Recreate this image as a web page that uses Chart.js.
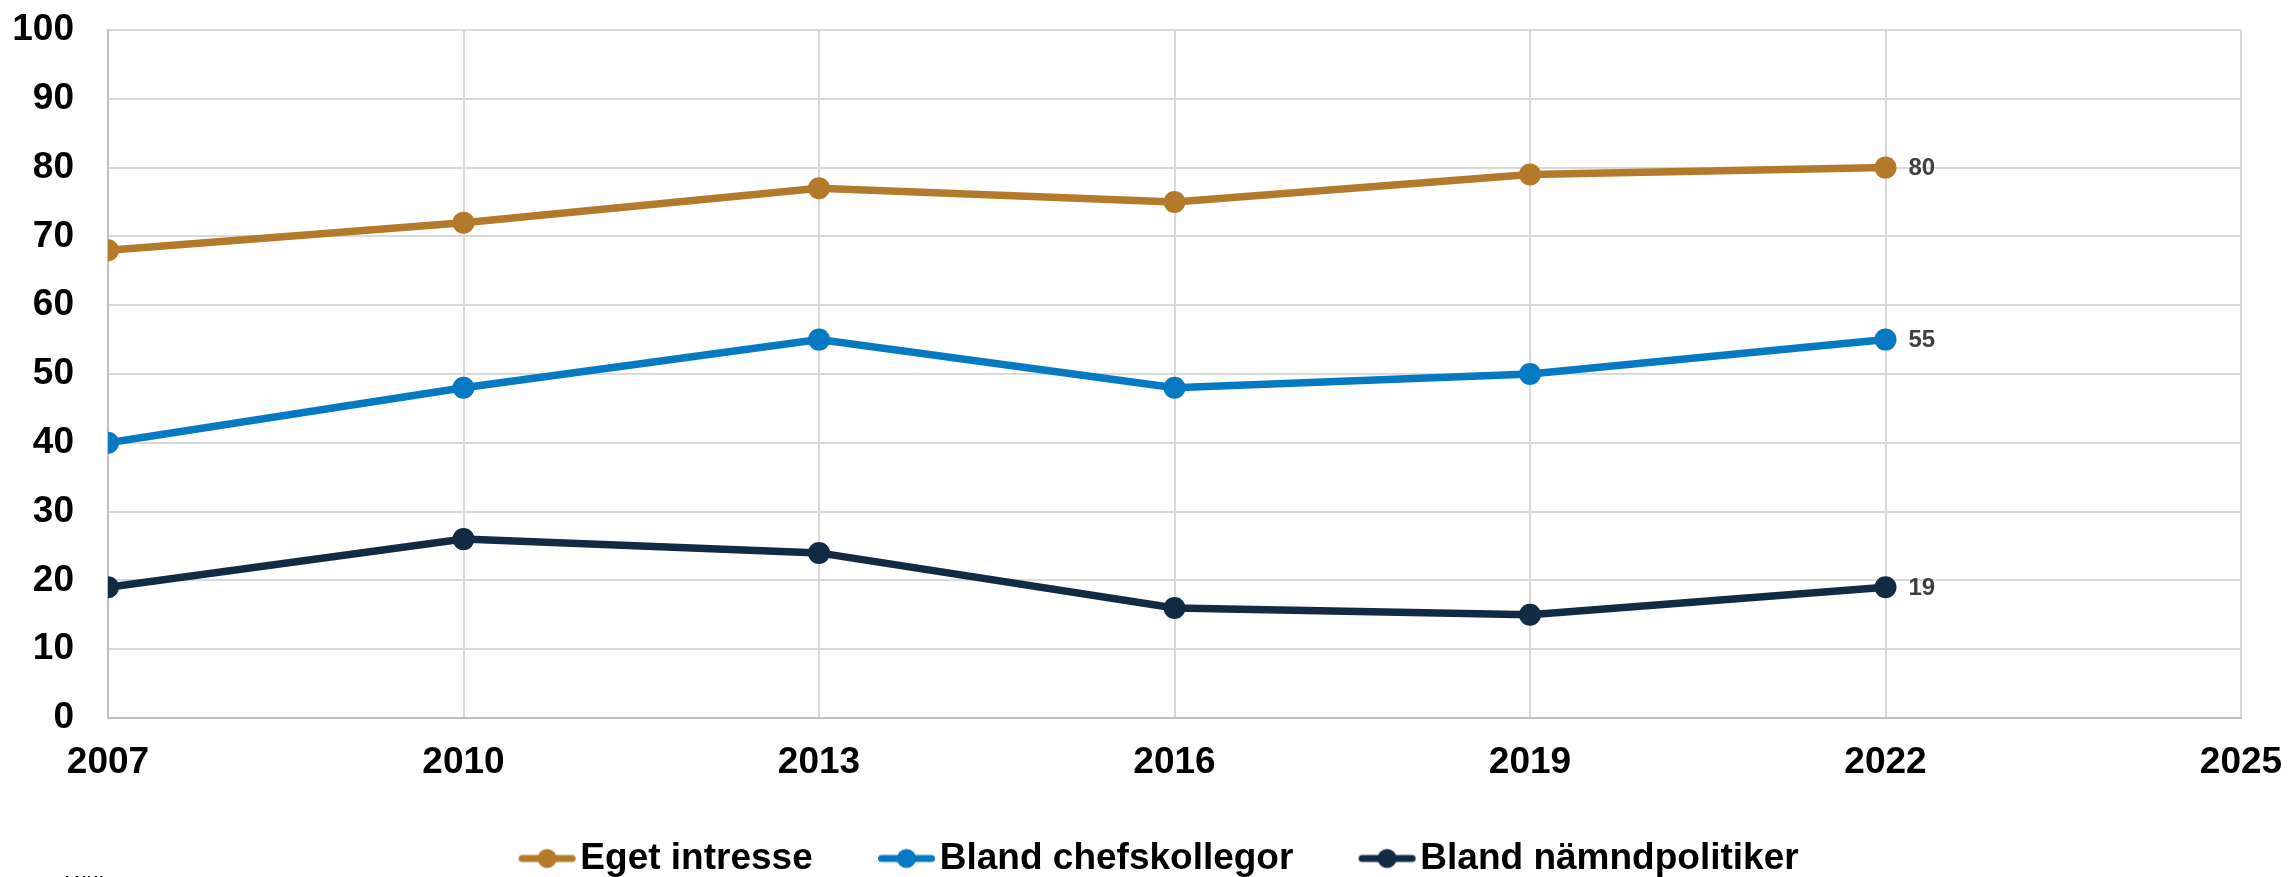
<!DOCTYPE html>
<html lang="sv">
<head>
    <meta charset="UTF-8">
    <title>Eget intresse och stöd</title>
    <script src="https://cdn.jsdelivr.net/npm/chart.js"></script>
    <style>
        html, body {
            margin: 0;
            padding: 0;
            background: #ffffff;
            overflow: hidden;
        }
        #wrap {
            position: relative;
            width: 2288px;
            height: 877px;
            overflow: hidden;
        }
        #source {
            position: absolute;
            left: 64px;
            top: 871px;
            font-family: "Liberation Sans", Arial, sans-serif;
            font-size: 24px;
            color: #000000;
        }
    </style>
</head>
<body>
<div id="wrap">
    <canvas id="chart" width="2288" height="877"></canvas>
    <div id="source">Källa:</div>
</div>
<script>
    // Values
    const years = [2007, 2010, 2013, 2016, 2019, 2022];
    const egetIntresse = [68, 72, 77, 75, 79, 80];
    const chefskollegor = [40, 48, 55, 48, 50, 55];
    const namndpolitiker = [19, 26, 24, 16, 15, 19];
    const seriesNames = ['Eget intresse', 'Bland chefskollegor', 'Bland nämndpolitiker'];
    const seriesColors = ['#b47a2c', '#0579c2', '#132a43'];
    const xTicks = [2007, 2010, 2013, 2016, 2019, 2022, 2025];
    const yTicks = [0, 10, 20, 30, 40, 50, 60, 70, 80, 90, 100];

    const fontFamily = '"Liberation Sans", Arial, sans-serif';

    // legend marker: short line with a dot in the middle
    // (transparent strip on the left so the text sits close to the marker)
    function legendMarker(color) {
        const c = document.createElement('canvas');
        const off = 23.5;
        c.width = 82;
        c.height = 24;
        const g = c.getContext('2d');
        g.strokeStyle = color;
        g.lineWidth = 7;
        g.lineCap = 'round';
        g.beginPath();
        g.moveTo(off + 4, 12);
        g.lineTo(off + 54, 12);
        g.stroke();
        g.fillStyle = color;
        g.beginPath();
        g.arc(off + 29, 12, 9.5, 0, Math.PI * 2);
        g.fill();
        return c;
    }

    const seriesData = [egetIntresse, chefskollegor, namndpolitiker];
    const datasets = seriesData.map((vals, i) => ({
        label: seriesNames[i],
        data: years.map((y, j) => ({ x: y, y: vals[j] })),
        borderColor: seriesColors[i],
        backgroundColor: seriesColors[i],
        borderWidth: 7.5,
        pointRadius: 11,
        pointBorderWidth: 0,
        pointStyle: 'circle',
        legendStyle: legendMarker(seriesColors[i]),
        tension: 0
    }));

    // value label next to the last point of each line
    const lastValueLabels = {
        id: 'lastValueLabels',
        afterDatasetsDraw(chart) {
            const ctx = chart.ctx;
            ctx.save();
            ctx.font = 'bold 24px ' + fontFamily;
            ctx.fillStyle = '#404040';
            ctx.textAlign = 'left';
            ctx.textBaseline = 'middle';
            chart.data.datasets.forEach((ds, i) => {
                const meta = chart.getDatasetMeta(i);
                const pt = meta.data[meta.data.length - 1];
                const v = ds.data[ds.data.length - 1].y;
                ctx.fillText(String(v), pt.x + 23, pt.y + 1);
            });
            ctx.restore();
        }
    };

    // move the legend row a bit to the right, like the original
    const legendShift = {
        id: 'legendShift',
        afterLayout(chart) {
            const l = chart.legend;
            if (!l) return;
            const d = 1154 - (l.left + l.right) / 2;
            l.left += d;
            l.right += d;
        }
    };

    new Chart(document.getElementById('chart').getContext('2d'), {
        type: 'line',
        data: { datasets: datasets },
        options: {
            responsive: false,
            animation: false,
            layout: {
                padding: { top: 30, right: 47, left: 0, bottom: 0 }
            },
            scales: {
                x: {
                    type: 'linear',
                    min: xTicks[0],
                    max: xTicks[xTicks.length - 1],
                    afterBuildTicks(scale) {
                        scale.ticks = xTicks.map(v => ({ value: v }));
                    },
                    afterFit(scale) {
                        scale.height = 66;
                        scale.paddingLeft = 0;
                        scale.paddingRight = 0;
                    },
                    grid: {
                        color: '#d9d9d9',
                        lineWidth: 2,
                        drawTicks: false
                    },
                    border: { color: '#c0c0c0', width: 2 },
                    ticks: {
                        padding: 23,
                        maxRotation: 0,
                        color: '#000000',
                        font: { family: fontFamily, size: 37, weight: 'bold' },
                        callback: v => String(v)
                    }
                },
                y: {
                    min: yTicks[0],
                    max: yTicks[yTicks.length - 1],
                    afterBuildTicks(scale) {
                        scale.ticks = yTicks.map(v => ({ value: v }));
                    },
                    afterFit(scale) {
                        scale.width = 108;
                        scale.paddingTop = 0;
                        scale.paddingBottom = 0;
                    },
                    grid: {
                        color: '#d9d9d9',
                        lineWidth: 2,
                        drawTicks: false
                    },
                    border: { color: '#c0c0c0', width: 2 },
                    ticks: {
                        padding: 34,
                        color: '#000000',
                        font: { family: fontFamily, size: 37, weight: 'bold' },
                        callback: v => String(v)
                    }
                }
            },
            plugins: {
                tooltip: { enabled: false },
                legend: {
                    position: 'bottom',
                    maxHeight: 93,
                    labels: {
                        usePointStyle: true,
                        pointStyleWidth: 52.5,
                        padding: 56,
                        color: '#000000',
                        font: { family: fontFamily, size: 37, weight: 'bold' },
                        generateLabels(chart) {
                            return chart.data.datasets.map((ds, i) => ({
                                text: ds.label,
                                pointStyle: ds.legendStyle,
                                fillStyle: ds.backgroundColor,
                                strokeStyle: ds.borderColor,
                                fontColor: '#000000',
                                lineWidth: 0,
                                hidden: false,
                                datasetIndex: i
                            }));
                        }
                    }
                }
            }
        },
        plugins: [lastValueLabels, legendShift]
    });
</script>
</body>
</html>
